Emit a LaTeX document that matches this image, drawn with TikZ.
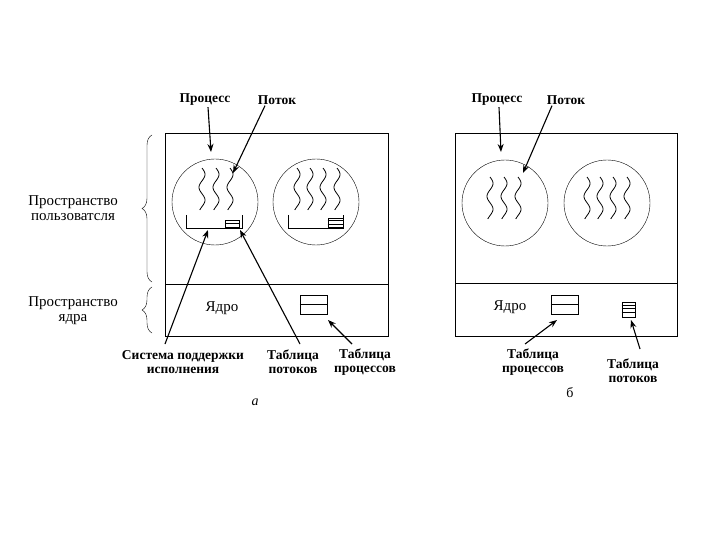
\documentclass[tikz,border=0pt]{standalone}
\usepackage{fontspec}
\setmainfont{Liberation Serif}
\usetikzlibrary{arrows.meta,decorations.pathreplacing,positioning}

\begin{document}
\begin{tikzpicture}[x=1pt,y=-1pt,
  lbl/.style={font=\fontsize{13.5}{14}\selectfont\bfseries,align=center,inner sep=1pt},
  txt/.style={font=\fontsize{15}{15}\selectfont,align=center,inner sep=1pt},
  arr/.style={-{Stealth[length=8pt,width=6pt]},line width=1.1pt},
  proc/.style={draw,circle,minimum size=86pt,inner sep=0pt},
  ptab/.style={draw,minimum width=27pt,minimum height=19pt,inner sep=0pt},
  brc/.style={decorate,decoration={brace,amplitude=10pt}},
  squig/.pic={\draw[line width=0.8pt] plot[domain=0:42,samples=40,smooth,variable=\t] ({3*sin(\t*14)},\t);}
]
\useasboundingbox (0,0) rectangle (720,540);

% ---- panel a: user-level threads
\draw (165,133) rectangle (388,336);
\draw (165,284) -- (388,284);
\draw[brc] (152,282) -- (152,135);
\draw[brc] (152,333) -- (152,287);
\node[txt] (usr) at (73,208) {Пространство\\пользоватсля};
\node[txt] (krn) at (73,311) {Пространство\\ядра};

\node[proc] (p1) at (215,202) {};
\node[proc] (p2) at (316,202) {};
\foreach \x in {202,216,230} \pic at (\x,168) {squig};
\foreach \x in {297,310,323,337} \pic at (\x,168) {squig};

% runtime systems with thread tables
\draw (186,215) |- (242,228) -- (242,215);
\node[draw,minimum width=14pt,minimum height=7pt,inner sep=0pt] (tt1) at (232,223.5) {};
\draw (tt1.west) -- (tt1.east);
\draw (288,215) |- (343,228) -- (343,215);
\node[draw,minimum width=15pt,minimum height=9pt,inner sep=0pt,anchor=south east] (tt2) at (343,227) {};
\draw ([yshift=-3pt]tt2.north west) -- ([yshift=-3pt]tt2.north east);
\draw ([yshift=3pt]tt2.south west) -- ([yshift=3pt]tt2.south east);

\node[txt] (core1) at (222,308) {Ядро};
\node[ptab] (pt1) at (313.5,304.5) {};
\draw (pt1.west) -- (pt1.east);

\node[lbl] (lp1) at (205,100) {Процесс};
\node[lbl] (lt1) at (277,100) {Поток};
\coordinate (ep1) at (211,152);
\coordinate (et1) at (233,173);
\draw[arr] ([xshift=3pt]lp1.south) -- (ep1);
\draw[arr] ([xshift=-12pt]lt1.south) -- (et1);

\node[lbl] (rts) at (183,362) {Система поддержки\\исполнения};
\node[lbl] (ltt1) at (293,362) {Таблица\\потоков};
\node[lbl] (lpt1) at (365,362) {Таблица\\процессов};
\coordinate (sr1) at (165,344);
\coordinate (er1) at (208,230);
\coordinate (st1) at (300,344);
\coordinate (et1b) at (240,230);
\coordinate (sp1) at (352,344);
\coordinate (ep1b) at (328,320);
\draw[arr] (sr1) -- (er1);
\draw[arr] (st1) -- (et1b);
\draw[arr] (sp1) -- (ep1b);
\node[txt,font=\fontsize{14}{15}\selectfont\itshape] (capa) at (255,402) {а};

% ---- panel b: kernel-level threads
\draw (455,133) rectangle (677,336);
\draw (455,283) -- (677,283);

\node[proc] (q1) at (505,203) {};
\node[proc] (q2) at (607,203) {};
\foreach \x in {490,504,518} \pic at (\x,177) {squig};
\foreach \x in {587,600,613,627} \pic at (\x,177) {squig};

\node[txt] (core2) at (510,307) {Ядро};
\node[ptab] (pt2) at (564.5,304.5) {};
\draw (pt2.west) -- (pt2.east);
\node[draw,line width=0.9pt,minimum width=13pt,minimum height=15pt,inner sep=0pt] (tt3) at (628.5,309.5) {};
\foreach \d in {3.5,7,10.5}
  \draw[line width=0.9pt] ([yshift=-\d pt]tt3.north west) -- ([yshift=-\d pt]tt3.north east);

\node[lbl] (lp2) at (497,100) {Процесс};
\node[lbl] (lt2) at (566,100) {Поток};
\coordinate (ep2) at (501,152);
\coordinate (et2) at (523,173);
\draw[arr] ([xshift=2pt]lp2.south) -- (ep2);
\draw[arr] ([xshift=-14pt]lt2.south) -- (et2);

\node[lbl] (lpt2) at (533,362) {Таблица\\процессов};
\node[lbl] (ltt2) at (633,371) {Таблица\\потоков};
\coordinate (sp2) at (525,344);
\coordinate (ep2b) at (557,320);
\coordinate (st2) at (640,349);
\coordinate (et2b) at (631,320);
\draw[arr] (sp2) -- (ep2b);
\draw[arr] (st2) -- (et2b);
\node[txt,font=\fontsize{14}{15}\selectfont] (capb) at (570,393) {б};
\end{tikzpicture}
\end{document}
